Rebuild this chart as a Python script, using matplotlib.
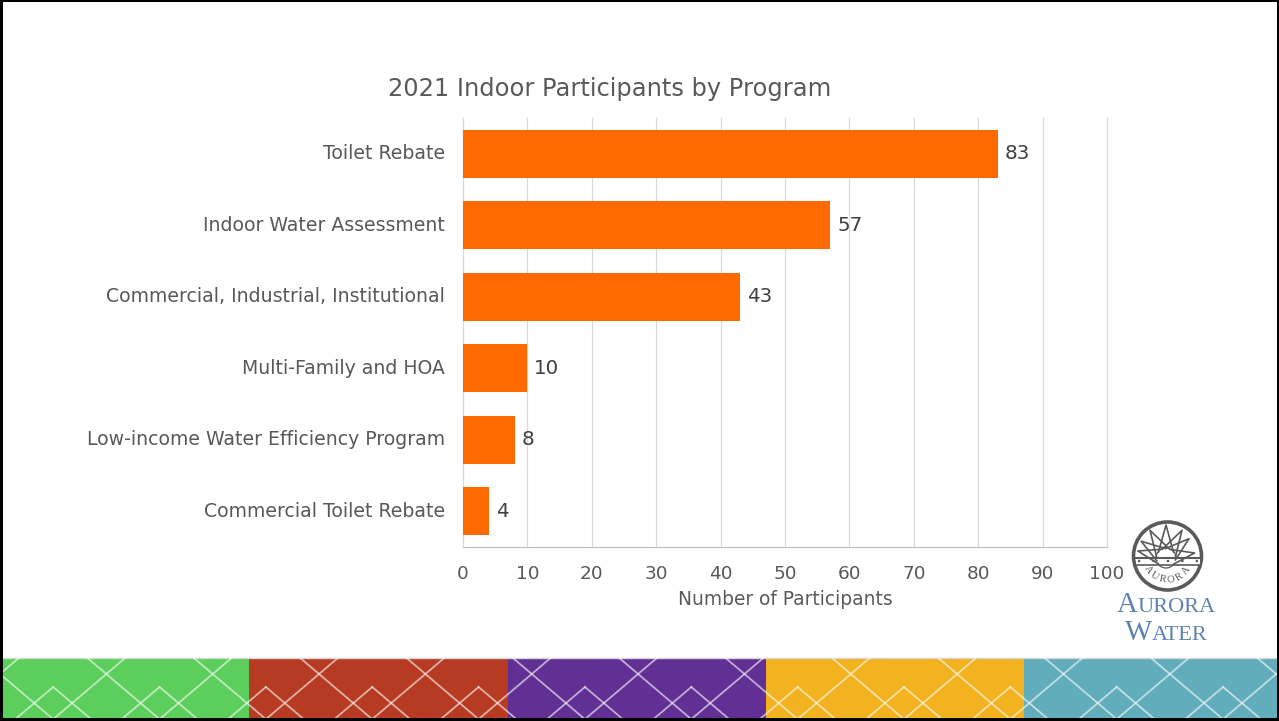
import numpy as np
import matplotlib
matplotlib.use("Agg")
import matplotlib.pyplot as plt
from matplotlib.patches import Rectangle, Circle, Polygon
from matplotlib.transforms import ScaledTranslation

programs = ["Toilet Rebate", "Indoor Water Assessment", "Commercial, Industrial, Institutional",
            "Multi-Family and HOA", "Low-income Water Efficiency Program", "Commercial Toilet Rebate"]
participants = [83, 57, 43, 10, 8, 4]
x_ticks = list(range(0, 101, 10))
title = "2021 Indoor Participants by Program"
x_label = "Number of Participants"

W, H = 1279, 721
TXT = "#595959"
plt.rcParams['font.family'] = ['DejaVu Sans']
fig = plt.figure(figsize=(W/100, H/100), dpi=100, facecolor="white")

# decoration layer in pixel coordinates
bg = fig.add_axes([0, 0, 1, 1], zorder=0)
bg.set_xlim(0, W); bg.set_ylim(H, 0); bg.axis("off")
segs = [(0, 249, "#5BCE5B"), (249, 508, "#B73B23"), (508, 766, "#623094"),
        (766, 1024, "#F3B21F"), (1024, 1279, "#62ADBC")]
clip = Rectangle((0, 658), W, 61, transform=bg.transData)
for a, b, c in segs:
    bg.add_patch(Rectangle((a, 658), b-a, 62, fc=c, ec="none"))
bg.plot([0, W], [657.5, 657.5], color="#d5d5d5", lw=1)
P = 106.35
S = 0.85
for k in range(-1, 14):
    cx = k*P
    for sgn in (1, -1):
        l, = bg.plot([cx-sgn*30, cx+sgn*75], [674-30*S, 674+75*S], color="white", alpha=.6, lw=1.3)
        l.set_clip_path(clip)
    ax0 = cx+53.2
    for sgn in (1, -1):
        l, = bg.plot([ax0, ax0+sgn*45], [687, 687+45*S], color="white", alpha=.6, lw=1.3)
        l.set_clip_path(clip)
# frame
for r in [(0, 0, W, 2), (0, 0, 3, H), (0, 718, W, 3), (1277, 0, 2, H)]:
    bg.add_patch(Rectangle((r[0], r[1]), r[2], r[3], fc="black", ec="none", zorder=5))

# logo
cx, cy, R = 1167.5, 556, 34
G = "#5a5a5a"
bg.add_patch(Circle((cx, cy), R, fc="white", ec=G, lw=2.6))
sx, sy = 1166, 558
tips = [(10, 29), (40, 30), (60, 32), (90, 33), (120, 32), (146, 30), (166, 29)]
for ang, r in tips:
    t = np.radians(ang)
    pa = t+np.pi/2
    hw = 7.5
    tip = (sx+r*np.cos(t), sy-r*np.sin(t))
    b1 = (sx+6*np.cos(t)+hw*np.cos(pa), sy-6*np.sin(t)-hw*np.sin(pa))
    b2 = (sx+6*np.cos(t)-hw*np.cos(pa), sy-6*np.sin(t)+hw*np.sin(pa))
    bg.plot([b1[0], tip[0], b2[0]], [b1[1], tip[1], b2[1]], color=G, lw=1.2)
bg.add_patch(Circle((sx, sy), 10, fc="white", ec=G, lw=.9))
bg.add_patch(Rectangle((cx-R+2, sy), 2*R-4, 7, fc="white", ec="none"))
bg.plot([cx-R+1, cx+R-1], [sy, sy], color=G, lw=1.5)
bg.plot([cx-R+4, cx+R-4], [sy+3, sy+3], color=G, lw=1.6, ls=(0, (1, 5.5)))
bg.plot([cx-R+1, cx+R-1], [sy+6.5, sy+6.5], color=G, lw=1.2)
for i, ch in enumerate("AURORA"):
    a = np.radians(145 - i*21.4)
    px, py = cx+24*np.cos(a), cy+24*np.sin(a)
    bg.text(px, py, ch, family="Liberation Serif", fontsize=7.5, color=G, ha="center", va="center",
            rotation=90-np.degrees(a))
BL = "#5F83AE"
def smallcaps(xc, yb, big, rest, bs, ss):
    f = fig.canvas.get_renderer()
    t1 = bg.text(0, yb, big, family="Liberation Serif", fontsize=bs, color=BL, va="baseline")
    t2 = bg.text(0, yb, rest, family="Liberation Serif", fontsize=ss, color=BL, va="baseline")
    w1, w2 = t1.get_window_extent(f).width, t2.get_window_extent(f).width
    x0 = xc-(w1+w2)/2
    t1.set_x(x0); t2.set_x(x0+w1)
smallcaps(1166, 612, "A", "URORA", 20.8, 16.1)
smallcaps(1166, 640, "W", "ATER", 20.8, 16.1)

# chart
ax = fig.add_axes([463/W, 1-547/H, (1107-463)/W, (547-118)/H], zorder=2)
ax.patch.set_alpha(0)
y = np.arange(len(programs))
bars = ax.barh(y, participants, height=48/71.5, color="#FF6A00", zorder=3)
ax.set_ylim(len(programs)-.5, -.5)
ax.set_xlim(0, 100)
ax.set_yticks(y, programs)
ax.set_xticks(x_ticks)
ax.tick_params(axis="y", length=0, pad=13, labelsize=13.6, labelcolor=TXT)
ax.tick_params(axis="x", length=0, pad=13, labelsize=13.3, labelcolor=TXT)
shift = ScaledTranslation(0, 2/100, fig.dpi_scale_trans)
for lab in ax.get_yticklabels():
    lab.set_verticalalignment("center_baseline")
    lab.set_transform(lab.get_transform()+shift)
ax.grid(axis="x", color="#d9d9d9", lw=.8, zorder=0)
for gl in ax.get_xgridlines():
    gl.set_clip_on(False)
for s in ("top", "right"):
    ax.spines[s].set_visible(False)
ax.spines["left"].set_color("#d9d9d9")
ax.spines["left"].set_linewidth(.8)
ax.spines["bottom"].set_color("#bdbdbd")
ax.bar_label(bars, labels=[str(v) for v in participants], padding=5, fontsize=14.3, color="#404040")
ax.set_xlabel(x_label, fontsize=13.4, color=TXT, labelpad=5)
fig.text(610/W, 1-89/H, title, fontsize=17.4, color=TXT, ha="center", va="center")

fig.savefig("out.png", dpi=100)
